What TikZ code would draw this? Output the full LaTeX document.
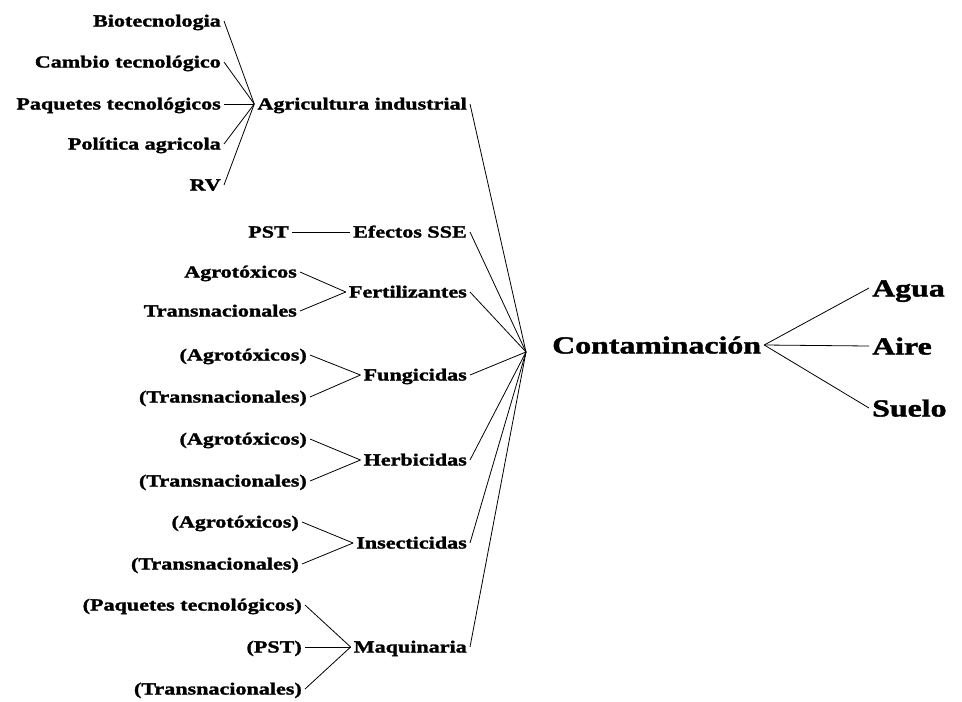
\documentclass[tikz,border=0pt]{standalone}
\usepackage{fontspec}
\setmainfont{Liberation Serif}[FakeStretch=1.3,BoldFeatures={FakeBold=1.6}]
\usetikzlibrary{positioning}
\tikzset{
  leaf/.style={anchor=east,inner sep=3pt,font=\fontsize{17}{20}\selectfont\bfseries,text height=11pt,text depth=0pt},
  topic/.style={leaf},
  big/.style={anchor=west,inner sep=3pt,font=\fontsize{24.5}{28}\selectfont\bfseries,text height=17pt,text depth=0pt},
  link/.style={draw,line width=0.8pt},
}

\begin{document}
\begin{tikzpicture}[x=1pt,y=-1pt]
  \useasboundingbox (0,0) rectangle (962,702);
  % middle column
  \node[topic] (agri) at (470,104) {Agricultura industrial};
  \node[topic] (efe) at (470,232) {Efectos SSE};
  \node[topic] (fert) at (470,292) {Fertilizantes};
  \node[topic] (fung) at (470,375) {Fungicidas};
  \node[topic] (herb) at (470,460) {Herbicidas};
  \node[topic] (insec) at (470,543) {Insecticidas};
  \node[topic] (maq) at (470,647) {Maquinaria};
  % left column
  \node[leaf] (bio) at (224,21) {Biotecnologia};
  \node[leaf] (cambio) at (224,62) {Cambio tecnológico};
  \node[leaf] (paq) at (224,104) {Paquetes tecnológicos};
  \node[leaf] (pol) at (224,144) {Política agricola};
  \node[leaf] (rv) at (224,185) {RV};
  \node[leaf] (pst) at (292,232) {PST};
  \node[leaf] (agroA) at (300,272) {Agrotóxicos};
  \node[leaf] (transA) at (300,311) {Transnacionales};
  \node[leaf] (agroB) at (310,355) {(Agrotóxicos)};
  \node[leaf] (transB) at (310,397) {(Transnacionales)};
  \node[leaf] (agroC) at (310,439) {(Agrotóxicos)};
  \node[leaf] (transC) at (310,481) {(Transnacionales)};
  \node[leaf] (agroD) at (302,522) {(Agrotóxicos)};
  \node[leaf] (transD) at (302,564) {(Transnacionales)};
  \node[leaf] (paqB) at (305,605) {(Paquetes tecnológicos)};
  \node[leaf] (pstB) at (305,647) {(PST)};
  \node[leaf] (transE) at (305,689) {(Transnacionales)};
  % right side
  \coordinate (hub) at (526,352);
  \node[big] (cont) at (549,345) {Contaminación};
  \node[big] (agua) at (869,288) {Agua};
  \node[big] (aire) at (869,346) {Aire};
  \node[big] (suelo) at (869,408) {Suelo};

  \foreach \a/\b in {bio/agri,cambio/agri,paq/agri,pol/agri,rv/agri,pst/efe,
    agroA/fert,transA/fert,agroB/fung,transB/fung,agroC/herb,transC/herb,
    agroD/insec,transD/insec,paqB/maq,pstB/maq,transE/maq}
    \draw[link] (\a.east) -- (\b.west);
  \foreach \m in {agri,efe,fert,fung,herb,insec,maq}
    \draw[link] (\m.east) -- (hub);
  \foreach \r in {agua,aire,suelo}
    \draw[link] (cont.east) -- (\r.west);
\end{tikzpicture}
\end{document}
